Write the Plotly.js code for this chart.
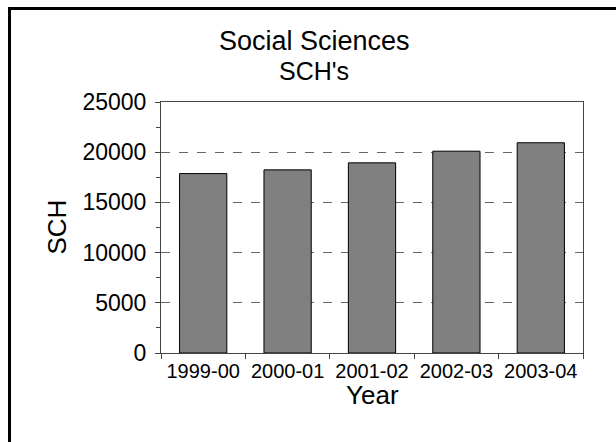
<!DOCTYPE html>
<html>
<head>
<meta charset="utf-8">
<script src="https://cdn.plot.ly/plotly-3.0.1.min.js"></script>
<style>
html,body{margin:0;padding:0;background:#fff;overflow:hidden;}
#wrap{position:relative;width:616px;height:442px;overflow:hidden;}
#chart{position:absolute;left:0;top:0;width:616px;height:442px;}
#frame{position:absolute;left:8px;top:7px;width:700px;height:600px;border:3px solid #000;pointer-events:none;}
</style>
</head>
<body>
<div id="wrap"><div id="chart"></div><div id="frame"></div></div>
<script>
const years = ["1999-00","2000-01","2001-02","2002-03","2003-04"];
const sch = [17870, 18240, 18940, 20100, 20940];
const yTicks = [0, 5000, 10000, 15000, 20000, 25000];

const FONT = "Liberation Sans, Arial, sans-serif";

const trace = {
  type: "bar",
  x: years,
  y: sch,
  marker: {color: "#808080", line: {color: "#000", width: 1}},
  hoverinfo: "x+y"
};

const layout = {
  width: 616, height: 442,
  margin: {l: 161, r: 33, t: 102, b: 89, pad: 0},
  paper_bgcolor: "#fff", plot_bgcolor: "#fff",
  font: {family: FONT, color: "#000"},
  showlegend: false,
  bargap: 0.44,
  xaxis: {
    type: "category",
    showline: true, linecolor: "#444", linewidth: 1, mirror: true,
    ticks: "outside", tickson: "boundaries", ticklen: 5, tickcolor: "#444",
    showgrid: false,
    tickfont: {size: 20, family: FONT}
  },
  yaxis: {
    range: [0, 25000],
    tickvals: yTicks,
    ticktext: yTicks.map(String),
    showline: true, linecolor: "#444", linewidth: 1, mirror: true,
    ticks: "outside", ticklen: 5, tickcolor: "#444",
    ticklabelstandoff: 4,
    minor: {dtick: 2500, ticks: "outside", ticklen: 4, tickcolor: "#444", showgrid: false},
    showgrid: true, gridcolor: "#666", gridwidth: 1.3, griddash: "dash",
    zeroline: false,
    tickfont: {size: 23, family: FONT}
  },
  annotations: [
    {text: "Social Sciences", xref: "paper", yref: "paper", x: 0.3626, y: 1.243,
     xanchor: "center", yanchor: "middle", showarrow: false, font: {size: 27, family: FONT}},
    {text: "SCH's", xref: "paper", yref: "paper", x: 0.3626, y: 1.125,
     xanchor: "center", yanchor: "middle", showarrow: false, font: {size: 25, family: FONT}},
    {text: "Year", xref: "paper", yref: "paper", x: 0.5, y: -0.167,
     xanchor: "center", yanchor: "middle", showarrow: false, font: {size: 26, family: FONT}},
    {text: "SCH", xref: "paper", yref: "paper", x: -0.2488, y: 0.5, textangle: -90,
     xanchor: "center", yanchor: "middle", showarrow: false, font: {size: 26, family: FONT}}
  ]
};

Plotly.newPlot("chart", [trace], layout, {displayModeBar: false, staticPlot: true});
</script>
</body>
</html>
